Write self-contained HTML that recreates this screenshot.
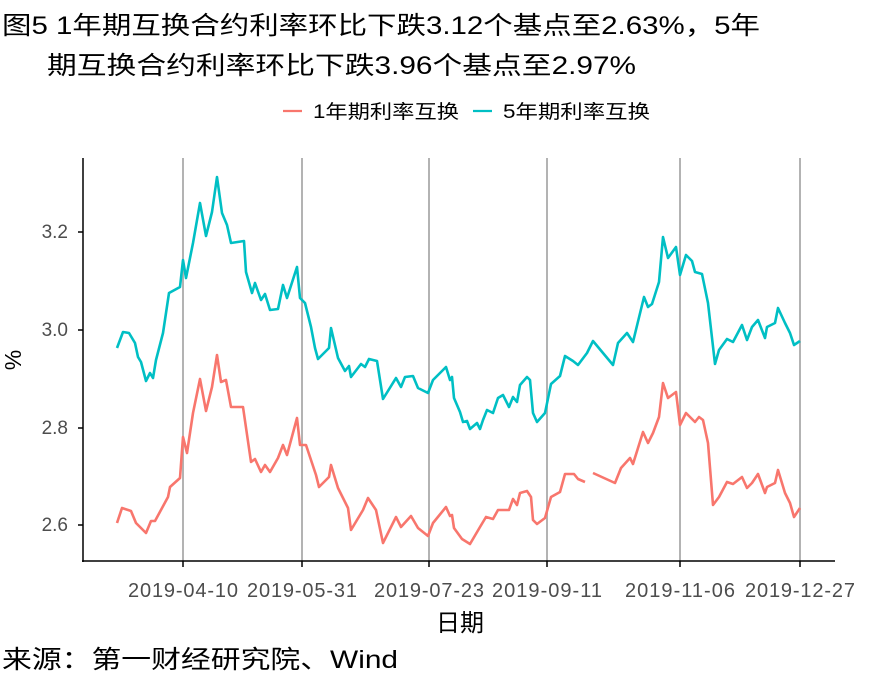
<!DOCTYPE html>
<html><head><meta charset="utf-8"><style>
body{margin:0;background:#fff;}
svg text{font-family:"Liberation Sans","Noto Sans CJK SC",sans-serif;}
</style></head><body>
<svg width="885" height="688" xmlns="http://www.w3.org/2000/svg">
<text x="2" y="34" font-size="25" fill="#000" textLength="758" lengthAdjust="spacingAndGlyphs">图5 1年期互换合约利率环比下跌3.12个基点至2.63%，5年</text>
<text x="47" y="74" font-size="25" fill="#000" textLength="589" lengthAdjust="spacingAndGlyphs">期互换合约利率环比下跌3.96个基点至2.97%</text>
<line x1="283" y1="111" x2="302" y2="111" stroke="#F8766D" stroke-width="2.2"/>
<text x="313" y="118" font-size="19" fill="#000" textLength="146" lengthAdjust="spacingAndGlyphs">1年期利率互换</text>
<line x1="473" y1="111" x2="492" y2="111" stroke="#00BFC4" stroke-width="2.2"/>
<text x="503" y="118" font-size="19" fill="#000" textLength="147" lengthAdjust="spacingAndGlyphs">5年期利率互换</text>
<g stroke="#b3b3b3" stroke-width="2">
<line x1="183" y1="158" x2="183" y2="561"/><line x1="302" y1="158" x2="302" y2="561"/>
<line x1="429" y1="158" x2="429" y2="561"/><line x1="547" y1="158" x2="547" y2="561"/>
<line x1="680" y1="158" x2="680" y2="561"/><line x1="800" y1="158" x2="800" y2="561"/>
</g>
<g stroke="#000" stroke-width="1.5">
<line x1="83" y1="158" x2="83" y2="562"/><line x1="82" y1="561" x2="835" y2="561"/>
<line x1="78" y1="232" x2="83" y2="232"/><line x1="78" y1="330" x2="83" y2="330"/>
<line x1="78" y1="428" x2="83" y2="428"/><line x1="78" y1="525" x2="83" y2="525"/>
<line x1="183" y1="561" x2="183" y2="567"/><line x1="302" y1="561" x2="302" y2="567"/>
<line x1="429" y1="561" x2="429" y2="567"/><line x1="547" y1="561" x2="547" y2="567"/>
<line x1="680" y1="561" x2="680" y2="567"/><line x1="800" y1="561" x2="800" y2="567"/>
</g>
<g font-size="19" fill="#4d4d4d" text-anchor="end">
<text x="68" y="238">3.2</text><text x="68" y="336">3.0</text><text x="68" y="434">2.8</text><text x="68" y="531">2.6</text>
</g>
<g font-size="20" fill="#4d4d4d" text-anchor="middle" lengthAdjust="spacingAndGlyphs">
<text x="183" y="597" textLength="110">2019-04-10</text><text x="302" y="597" textLength="110">2019-05-31</text><text x="429" y="597" textLength="110">2019-07-23</text>
<text x="547" y="597" textLength="110">2019-09-11</text><text x="680" y="597" textLength="110">2019-11-06</text><text x="800" y="597" textLength="110">2019-12-27</text>
</g>
<text x="460" y="631" font-size="24" text-anchor="middle" fill="#000">日期</text>
<text x="21" y="360" font-size="23" text-anchor="middle" fill="#000" transform="rotate(-90 21 360)">%</text>
<text x="2" y="668" font-size="25" fill="#000" textLength="396" lengthAdjust="spacingAndGlyphs">来源：第一财经研究院、Wind</text>
<g fill="none" stroke-width="2.6" stroke-linejoin="round">
<polyline stroke="#00BFC4" points="117,348 123,332 129,333 135,343 138,357 141,362 146,381 150,373 153,378 156,360 163,333 169,293 180,287 183,260 186,278 193,243 200,203 206,236 212,212 217,177 222,213 227,225 231,243 244,241 246,272 252,293 255,283 261,300 265,294 270,310 278,309 283,285 287,298 297,267 300,298 305,303 311,327 315,348 318,359 329,348 331,328 338,358 345,371 349,366 351,377 361,364 365,367 369,359 377,361 383,399 396,378 401,387 405,377 413,376 418,388 428,393 433,380 446,367 450,380 452,377 454,398 460,412 463,422 467,421 470,429 477,423 480,429 483,420 487,410 493,413 498,398 503,395 509,407 513,397 517,402 520,385 527,377 530,380 533,413 537,422 545,413 551,384 560,376 565,356 573,361 578,365 587,353 593,341 613,365 618,343 627,333 633,342 644,297 648,307 652,304 659,282 663,237 668,258 676,247 680,275 686,255 692,261 695,272 702,274 708,303 715,364 719,350 727,339 733,342 742,325 747,340 752,327 758,320 765,338 767,327 775,323 778,308 785,323 790,333 794,345 800,341"/>
<polyline stroke="#F8766D" points="117,523 122,508 131,511 136,523 146,533 151,521 155,521 168,497 170,487 180,478 183,437 187,453 193,413 200,379 206,411 212,387 217,355 221,382 226,380 231,407 243,407 251,462 255,459 261,472 265,465 270,472 278,458 283,445 287,455 297,418 300,445 306,445 316,475 319,487 329,477 331,465 338,488 348,508 351,530 363,510 368,498 376,510 383,543 396,517 401,527 411,516 418,528 428,536 433,523 446,507 450,516 452,515 454,528 462,539 470,544 480,527 486,517 493,519 498,510 509,510 513,499 517,505 520,493 527,491 531,497 533,520 537,524 545,518 551,497 560,492 565,474 574,474 578,479 585,482"/>
<polyline stroke="#F8766D" points="593,473 615,483 621,468 630,458 633,464 643,432 648,443 653,433 659,417 663,383 668,398 676,392 680,425 686,413 695,422 699,417 703,420 708,443 713,505 719,497 727,482 733,484 742,477 747,488 752,483 758,474 765,493 767,487 775,483 778,470 785,493 790,503 794,517 800,508"/>
</g>
</svg>
</body></html>
